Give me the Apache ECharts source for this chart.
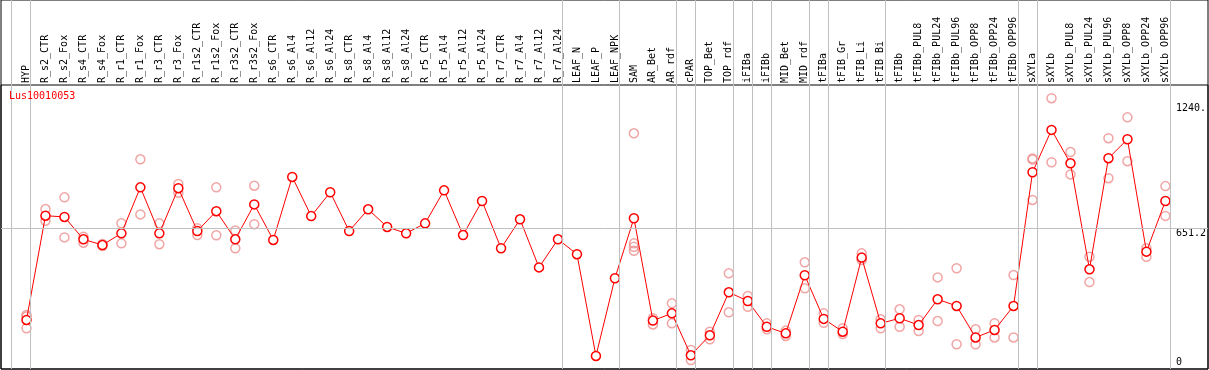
<!DOCTYPE html>
<html>
<head>
<meta charset="utf-8">
<script src="https://cdn.jsdelivr.net/npm/echarts@6/dist/echarts.min.js"></script>
<style>
html,body{margin:0;padding:0;background:#fff;}
#chart{width:1209px;height:370px;}
</style>
</head>
<body>
<div id="chart"></div>
<script>
const chartTitle = 'Lus10010053';

const categories = ['HYP','R_s2_CTR','R_s2_Fox','R_s4_CTR','R_s4_Fox','R_r1_CTR','R_r1_Fox','R_r3_CTR','R_r3_Fox','R_r1s2_CTR','R_r1s2_Fox','R_r3s2_CTR','R_r3s2_Fox','R_s6_CTR','R_s6_Al4','R_s6_Al12','R_s6_Al24','R_s8_CTR','R_s8_Al4','R_s8_Al12','R_s8_Al24','R_r5_CTR','R_r5_Al4','R_r5_Al12','R_r5_Al24','R_r7_CTR','R_r7_Al4','R_r7_Al12','R_r7_Al24','LEAF_N','LEAF_P','LEAF_NPK','SAM','AR_Bet','AR_rdf','cPAR','TOP_Bet','TOP_rdf','iFIBa','iFIBb','MID_Bet','MID_rdf','tFIBa','tFIB_Gr','tFIB_Li','tFIB_Bi','tFIBb','tFIBb_PUL8','tFIBb_PUL24','tFIBb_PUL96','tFIBb_OPP8','tFIBb_OPP24','tFIBb_OPP96','sXYLa','sXYLb','sXYLb_PUL8','sXYLb_PUL24','sXYLb_PUL96','sXYLb_OPP8','sXYLb_OPP24','sXYLb_OPP96'];

const meanValues = [221,711,705,600,573,628,844,628,840,639,732,600,764,597,893,709,821,639,741,658,628,675,830,620,780,558,694,468,600,530,52,417,699,218,252,55,149,351,310,189,158,431,226,166,514,205,229,197,318,287,139,174,287,915,1114,957,459,981,1070,542,780];

const replicateValues = [
  [244,237,182],[742,687],[797,609],[612,584],[578,568],[675,581],[976,717],[675,577],[860,819],[652,620],[844,619],[641,558],[852,671],
  [],[],[],[],[],[],[],[],[],[],[],[],[],[],[],[],[],[],[],
  [1098,581,565,546],[229,200],[299,205],[80,33],[166,130],[440,257],[334,283],[205,177],[171,146],[492,370],
  [252,208],[182,155],[534,503],[224,182],[271,189],[221,169],[421,216],[464,107],[177,107],[205,139],[432,139],
  [980,975,785],[1263,962],[1010,905],[518,399],[1075,887],[1173,967],[558,518],[850,710]
];

// group separators: drawn after these categories ('' = before the first one)
const separatorAfter = ['','HYP','R_r7_Al24','LEAF_NPK','AR_rdf','cPAR','TOP_rdf','iFIBa','iFIBb','MID_rdf','tFIBa','tFIB_Bi','tFIBb_OPP96','sXYLa','sXYLb_OPP96'];

const yTickValues = [0, 651.2, 1240];
const yTickLabels = ['0', '651.2', '1240.'];
const refLineValue = 651.2;
const yAxisMax = 1325;

// ---- layout ----
const FONT = 'DejaVu Sans Mono';
const FRAME_L = 1, FRAME_R = 1208, FRAME_T = 0, FRAME_B = 369;
const PLOT_T = 85;
const BAND = 19;
const DATA_L = 17;
const DATA_W = BAND * categories.length;
const Y_ZERO = 367;
const DATA_H = Y_ZERO - PLOT_T;
const SEP_OFF = 4 / BAND;

const c0 = DATA_L + BAND / 2;
const pxPerUnit = DATA_H / yAxisMax;
const gAxMin = (FRAME_L - c0) / BAND;
const gAxMax = (FRAME_R - c0) / BAND;
const gAyMin = -(FRAME_B - Y_ZERO) / pxPerUnit;
const gAyMax = (Y_ZERO - FRAME_T) / pxPerUnit;

const sepLines = separatorAfter.map(n => ({ xAxis: (n === '' ? -1 : categories.indexOf(n)) + SEP_OFF }));
sepLines.push({ yAxis: refLineValue });

const repData = [];
replicateValues.forEach((arr, i) => arr.forEach(v => repData.push([i, v])));

const chart = echarts.init(document.getElementById('chart'), null, { renderer: 'canvas' });
chart.setOption({
  animation: false,
  backgroundColor: '#fff',
  title: {
    text: chartTitle, left: 9, top: 91, padding: 0,
    textStyle: { fontFamily: FONT, fontSize: 10, fontWeight: 'normal', color: '#ff0000' }
  },
  grid: [
    { left: FRAME_L, top: FRAME_T, width: FRAME_R - FRAME_L, height: FRAME_B - FRAME_T, show: true, borderColor: '#000', borderWidth: 1, backgroundColor: 'transparent' },
    { left: DATA_L, top: PLOT_T, width: DATA_W, height: DATA_H, show: false },
    { left: FRAME_L, top: PLOT_T, width: FRAME_R - FRAME_L, height: FRAME_B - PLOT_T, show: true, borderColor: '#000', borderWidth: 1, backgroundColor: 'transparent' }
  ],
  xAxis: [
    { gridIndex: 0, type: 'value', min: gAxMin, max: gAxMax, show: false },
    { gridIndex: 1, type: 'category', position: 'top', data: categories, boundaryGap: true,
      axisLine: { show: false }, axisTick: { show: false }, splitLine: { show: false },
      axisLabel: { interval: 0, rotate: 90, margin: 2, fontFamily: FONT, fontSize: 10, color: '#000' } }
  ],
  yAxis: [
    { gridIndex: 0, type: 'value', min: gAyMin, max: gAyMax, show: false },
    { gridIndex: 1, type: 'value', position: 'right', min: 0, max: yAxisMax,
      axisLine: { show: false }, axisTick: { show: false }, splitLine: { show: false },
      axisLabel: { customValues: yTickValues, margin: 1, fontFamily: FONT, fontSize: 10, color: '#000',
        verticalAlign: 'top', verticalAlignMinLabel: 'bottom',
        formatter: v => { const k = yTickValues.indexOf(v); return k >= 0 ? yTickLabels[k] : ''; } } }
  ],
  series: [
    { type: 'line', xAxisIndex: 0, yAxisIndex: 0, data: [], silent: true, z: 1,
      markLine: { silent: true, symbol: ['none', 'none'], label: { show: false },
        lineStyle: { color: '#c0c0c0', type: 'solid', width: 1 }, data: sepLines, animation: false } },
    { type: 'scatter', xAxisIndex: 1, yAxisIndex: 1, data: repData, symbol: 'circle', symbolSize: 9, z: 3,
      itemStyle: { color: 'transparent', borderColor: '#ee9090', borderWidth: 1.5 } },
    { type: 'line', xAxisIndex: 1, yAxisIndex: 1, data: meanValues, symbol: 'circle', symbolSize: 9, z: 4,
      showSymbol: true, showAllSymbol: true,
      lineStyle: { color: '#ff0000', width: 1 },
      itemStyle: { color: '#ffffff', borderColor: '#ff0000', borderWidth: 1.5 } }
  ]
});
</script>
</body>
</html>
